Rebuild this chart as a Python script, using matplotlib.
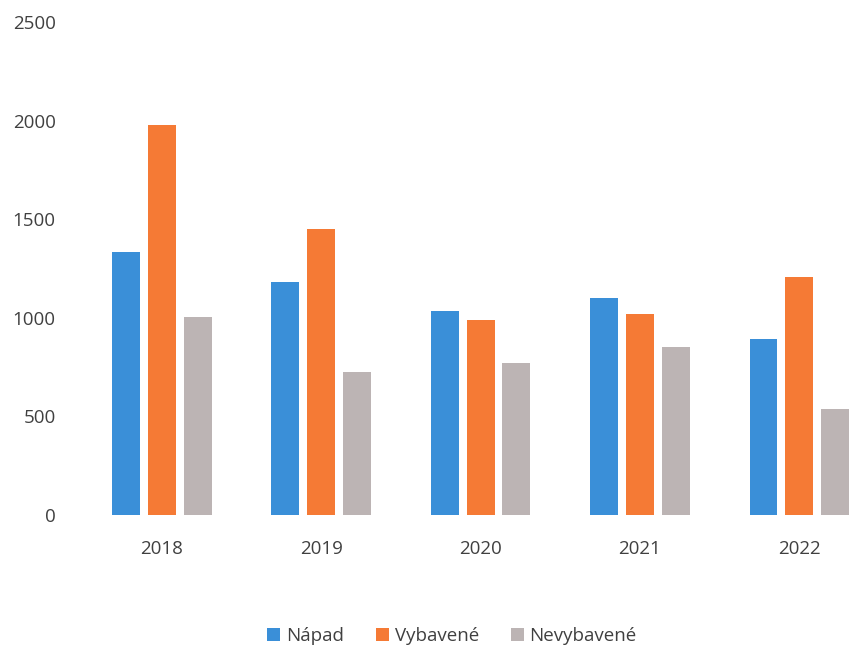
import matplotlib.pyplot as plt
import numpy as np

years = ['2018', '2019', '2020', '2021', '2022']
napad = [1334, 1181, 1034, 1100, 892]
vybavene = [1978, 1450, 989, 1019, 1207]
nevybavene = [1004, 725, 771, 852, 537]

series = [('Nápad', napad, '#3a8fd8'),
          ('Vybavené', vybavene, '#f57a35'),
          ('Nevybavené', nevybavene, '#bcb4b4')]

plt.rcParams['font.family'] = ['Open Sans', 'DejaVu Sans']

fig = plt.figure(figsize=(8.63, 6.5), dpi=100)
ax = fig.add_axes([82/863, 135/650, 778/863, 493/650])

x = np.arange(len(years))
w = 0.175
step = 0.225
for i, (name, vals, col) in enumerate(series):
    ax.bar(x + (i - 1) * step, vals, w, color=col, label=name)

ax.set_xlim(-0.5, 4.38)
ax.set_ylim(0, 2500)
ax.set_yticks(range(0, 2501, 500))
ax.set_xticks(x)
ax.set_xticklabels(years)
for s in ax.spines.values():
    s.set_visible(False)
ax.tick_params(length=0, labelsize=13.5, colors='#404040')
ax.tick_params(axis='y', pad=19)
ax.tick_params(axis='x', pad=18)

fig.legend(loc='center', bbox_to_anchor=(452/863, 1 - 636/650), ncol=3,
           frameon=False, fontsize=13.5, handlelength=0.7, handleheight=0.7,
           handletextpad=0.3, columnspacing=1.7, labelcolor='#404040')

fig.savefig('out.png')
